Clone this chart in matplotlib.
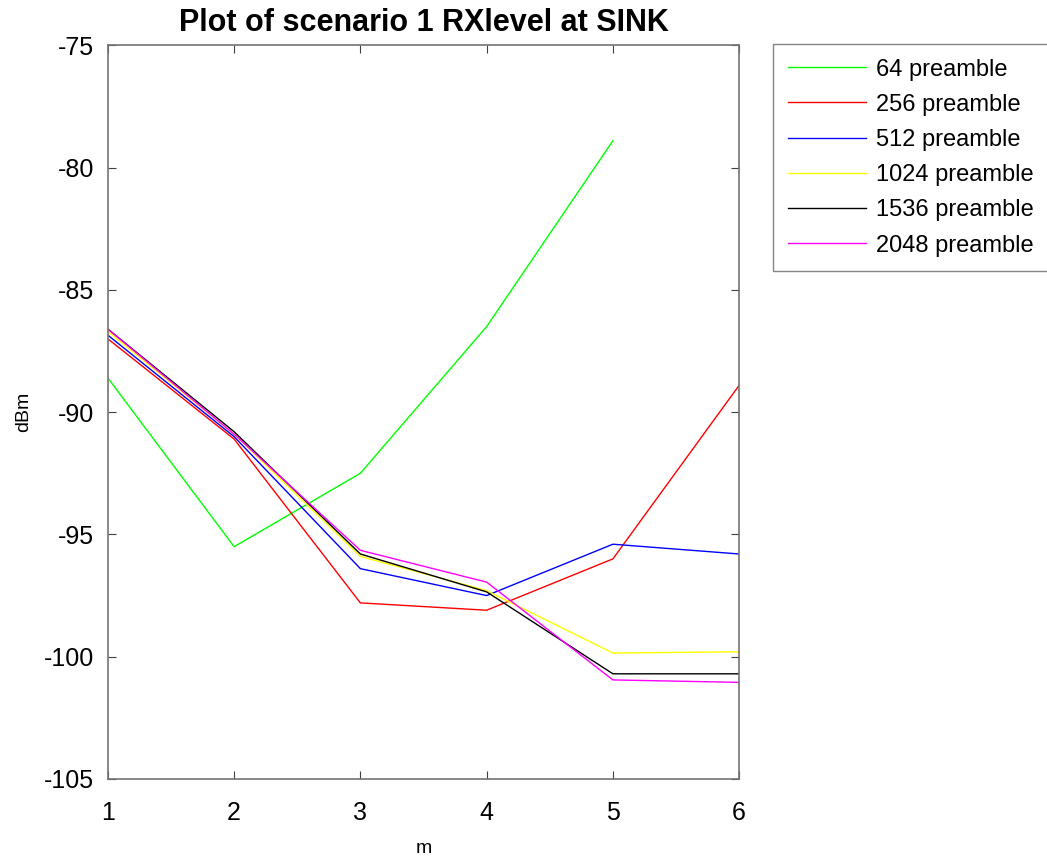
import matplotlib.pyplot as plt

plt.rcParams['font.family'] = ['Liberation Sans', 'DejaVu Sans']
plt.rcParams['axes.unicode_minus'] = False

m = [1, 2, 3, 4, 5, 6]
labels = ['64 preamble', '256 preamble', '512 preamble',
          '1024 preamble', '1536 preamble', '2048 preamble']
colors = ['#00ff00', '#ff0000', '#0000ff', '#ffff00', '#000000', '#ff00ff']

p64 = [-88.6, -95.5, -92.5, -86.5, -78.9]
p256 = [-87.0, -91.1, -97.8, -98.1, -96.0, -88.9]
p512 = [-86.85, -91.0, -96.4, -97.5, -95.4, -95.8]
p1024 = [-86.7, -90.9, -95.9, -97.3, -99.85, -99.8]
p1536 = [-86.6, -90.8, -95.8, -97.35, -100.7, -100.7]
p2048 = [-86.6, -90.9, -95.65, -96.95, -100.95, -101.05]
series = [p64, p256, p512, p1024, p1536, p2048]

fig = plt.figure(figsize=(10.47, 8.56), dpi=100)
ax = fig.add_axes([0.103, 0.090, 0.603, 0.857])

for ys, c, lab in zip(series, colors, labels):
    ax.plot(m[:len(ys)], ys, color=c, lw=1.0, label=lab)

ax.set_xlim(1, 6)
ax.set_ylim(-105, -75)
ax.set_xticks(m)
ax.set_yticks(range(-105, -74, 5))
ax.tick_params(direction='in', top=True, right=True, labelsize=18,
               length=6, color='0.25')
ax.tick_params(axis='x', pad=16)
ax.tick_params(axis='y', pad=10)
for s in ax.spines.values():
    s.set_color('0.45')
    s.set_linewidth(1.2)

ax.set_xlabel('m', fontsize=14, labelpad=11)
ax.set_ylabel('dBm', fontsize=14, labelpad=8)
ax.set_title('Plot of scenario 1 RXlevel at SINK', fontsize=22, fontweight='bold', pad=10)

leg = ax.legend(loc='upper left', bbox_to_anchor=(1.054, 1.002), fontsize=17,
                frameon=True, fancybox=False, handlelength=3.3, labelspacing=0.56,
                borderpad=0.62, handletextpad=0.45, borderaxespad=0)
leg.get_frame().set_edgecolor('0.4')

fig.savefig('out.png', dpi=100)
